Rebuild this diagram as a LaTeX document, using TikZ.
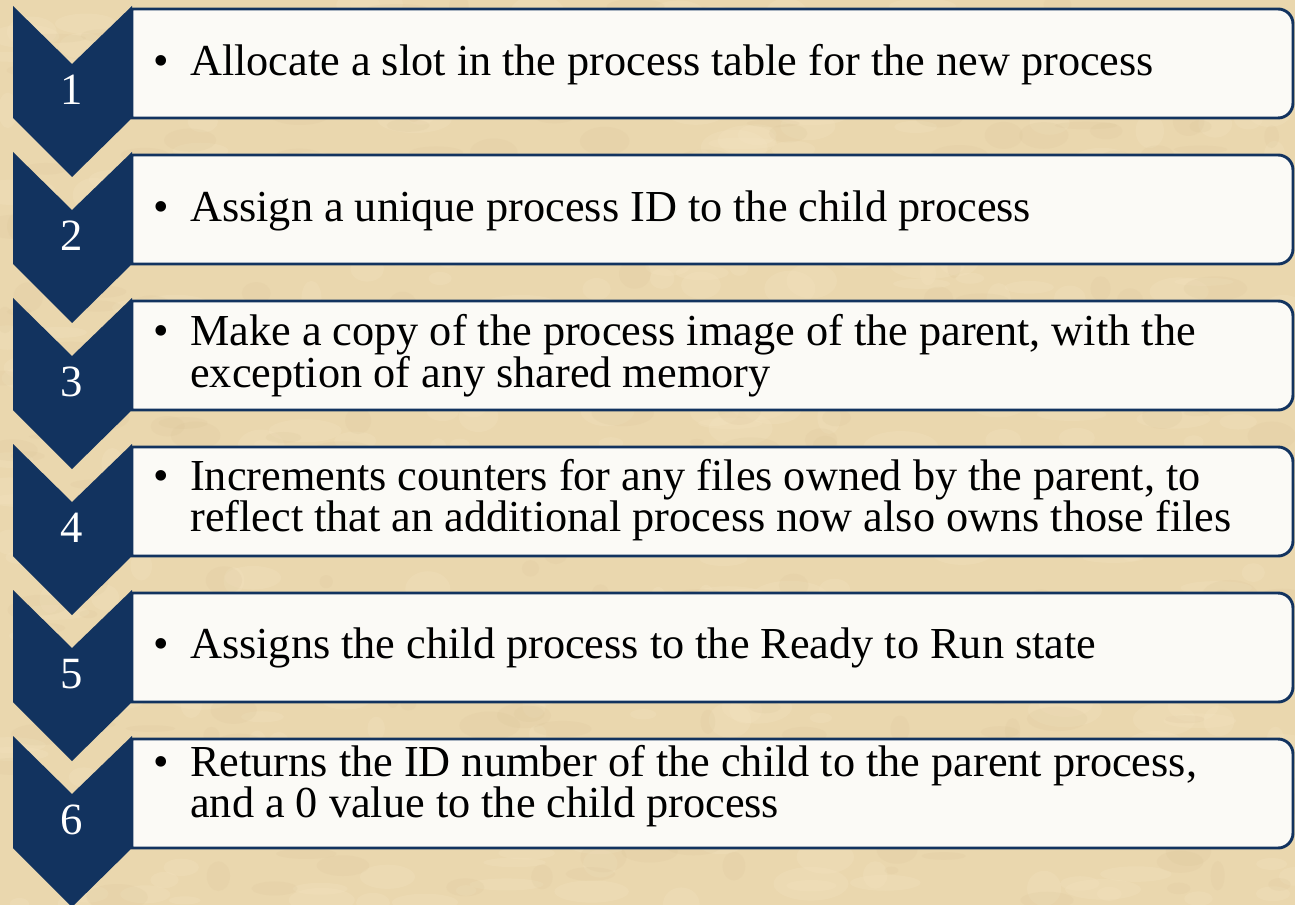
\documentclass[tikz,border=0pt]{standalone}
\usepackage{fontspec}
\setmainfont{Liberation Serif}
\definecolor{navy}{HTML}{12335F}
\definecolor{parch}{HTML}{EAD7AE}
\definecolor{parchlight}{HTML}{F4E4C2}
\definecolor{parchdark}{HTML}{D6BF93}
\definecolor{boxfill}{HTML}{FBFAF6}
\tikzset{
  chev/.style={fill=navy},
  stepbox/.style={fill=boxfill, draw=navy, line width=2.2pt},
  numtxt/.style={text=white, inner sep=0pt, font=\fontsize{33.5pt}{31pt}\selectfont},
  bodytxt/.style={text=black, inner sep=0pt, font=\fontsize{33.2pt}{31pt}\selectfont}
}
\newcommand{\stepitem}[2]{\parbox[t]{860pt}{\fontsize{33.2pt}{31pt}\selectfont\lineskiplimit=-20pt\hangindent=27.75pt\hangafter=1\noindent\makebox[27.75pt][l]{\textbullet}#1\\#2}}
\newcommand{\stepone}[1]{\makebox[27.75pt][l]{\textbullet}#1}
\begin{document}
\begin{tikzpicture}[x=0.75pt,y=-0.75pt]
\useasboundingbox (0,0) rectangle (1295,905);
% parchment background
\fill[parch] (0,0) rectangle (1295,905);
\pgfmathsetseed{42}
\foreach \i in {1,...,420}{
  \pgfmathsetmacro{\px}{rnd*1295}
  \pgfmathsetmacro{\py}{rnd*905}
  \pgfmathsetmacro{\rx}{8+rnd*30}
  \pgfmathsetmacro{\ry}{4+rnd*14}
  \fill[parchlight, opacity=0.25] (\px,\py) ellipse [x radius=\rx, y radius=\ry];
}
\foreach \i in {1,...,320}{
  \pgfmathsetmacro{\px}{rnd*1295}
  \pgfmathsetmacro{\py}{rnd*905}
  \pgfmathsetmacro{\rx}{6+rnd*26}
  \pgfmathsetmacro{\ry}{3+rnd*12}
  \fill[parchdark, opacity=0.14] (\px,\py) ellipse [x radius=\rx, y radius=\ry];
}
% steps
\foreach \k in {0,...,5}{
  \pgfmathsetmacro{\T}{6+146*\k}
  \pgfmathsetmacro{\bt}{\T+3}
  \pgfmathsetmacro{\bb}{\T+112}
  \draw[stepbox] (132,\bt) -- (1278,\bt) .. controls (1286.3,\bt) and (1293,\bt+6.7) .. (1293,\bt+15)
     -- (1293,\bb-15) .. controls (1293,\bb-6.7) and (1286.3,\bb) .. (1278,\bb) -- (132,\bb) -- cycle;
  \fill[chev] (13,\T) -- (72,\T+58) -- (132,\T) -- (132,\T+112) -- (72,\T+171) -- (13,\T+112) -- cycle;
}
% numbers
\node[numtxt] (n1) at (72,90) {1};
\node[numtxt] (n2) at (72,236) {2};
\node[numtxt] (n3) at (72,382) {3};
\node[numtxt] (n4) at (72,528) {4};
\node[numtxt] (n5) at (72,674) {5};
\node[numtxt] (n6) at (72,820) {6};
% texts
\node[bodytxt, anchor=base west] (t1) at (153,76) {\stepone{Allocate a slot in the process table for the new process}};
\node[bodytxt, anchor=base west] (t2) at (153,222) {\stepone{Assign a unique process ID to the child process}};
\node[bodytxt, anchor=base west] (t3) at (153,346) {\stepitem{Make a copy of the process image of the parent, with the}{exception of any shared memory}};
\node[bodytxt, anchor=base west] (t4) at (153,490) {\stepitem{Increments counters for any files owned by the parent, to}{reflect that an additional process now also owns those files}};
\node[bodytxt, anchor=base west] (t5) at (153,658) {\stepone{Assigns the child process to the Ready to Run state}};
\node[bodytxt, anchor=base west] (t6) at (153,776) {\stepitem{Returns the ID number of the child to the parent process,}{and a 0 value to the child process}};
\end{tikzpicture}
\end{document}
